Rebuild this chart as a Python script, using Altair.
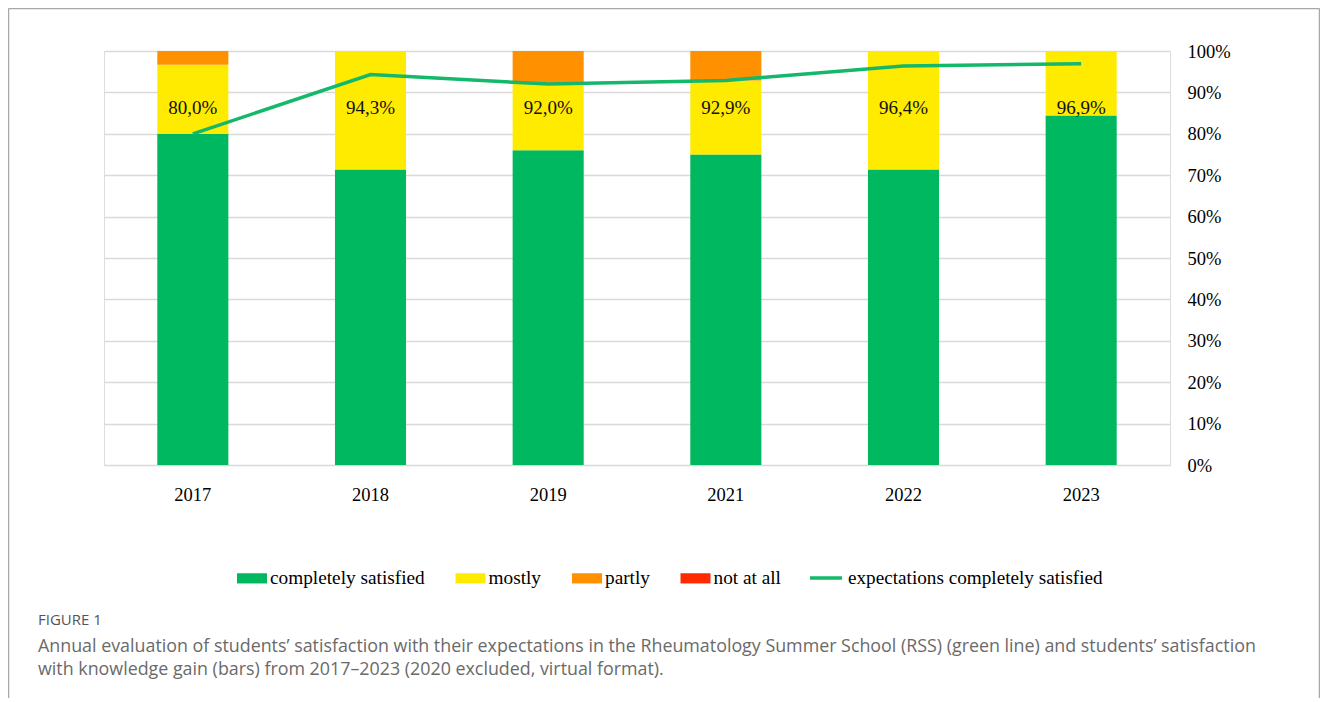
import altair as alt
import pandas as pd

years = ["2017", "2018", "2019", "2021", "2022", "2023"]
categories = ["completely satisfied", "mostly", "partly", "not at all"]
completely = [80.0, 71.4, 76.0, 75.0, 71.4, 84.4]
mostly = [16.7, 28.6, 16.0, 17.9, 28.6, 15.6]
partly = [3.3, 0.0, 8.0, 7.1, 0.0, 0.0]
not_at_all = [0.0, 0.0, 0.0, 0.0, 0.0, 0.0]
expectations = [80.0, 94.3, 92.0, 92.9, 96.4, 96.9]
line_name = "expectations completely satisfied"
y_ticks = [0, 10, 20, 30, 40, 50, 60, 70, 80, 90, 100]

bar_colors = ["#00B85F", "#FFEB00", "#FF9100", "#FF2A00"]
line_color = "#14B86A"

series = [completely, mostly, partly, not_at_all]
rows = []
for ci, (cat, vals) in enumerate(zip(categories, series)):
    for y, v in zip(years, vals):
        rows.append({"year": y, "category": cat, "idx": ci, "value": v})
bars_df = pd.DataFrame(rows)

line_df = pd.DataFrame({
    "year": years,
    "value": expectations,
    "label": [f"{v:.1f}".replace(".", ",") + "%" for v in expectations],
    "series": [line_name] * len(years),
})

SERIF = "Liberation Serif"
W, H = 1066, 414

x_enc = alt.X("year:N", sort=years,
              scale=alt.Scale(paddingInner=0.6, paddingOuter=0.3),
              axis=alt.Axis(title=None, labelAngle=0, ticks=False, domain=False,
                            labelFont=SERIF, labelFontSize=18.5, labelColor="#000",
                            labelPadding=20))

y_scale = alt.Scale(domain=[0, 100])

bars = alt.Chart(bars_df).mark_bar().encode(
    x=x_enc,
    y=alt.Y("value:Q", stack="zero", scale=y_scale,
            axis=alt.Axis(orient="right", values=y_ticks, title=None,
                          labelExpr="datum.value + '%'", ticks=False, domain=False,
                          grid=True, gridColor="#d9d9d9", gridWidth=1.3,
                          labelFont=SERIF, labelFontSize=18.5, labelColor="#000",
                          labelPadding=17)),
    color=alt.Color("category:N",
                    scale=alt.Scale(domain=categories, range=bar_colors),
                    legend=alt.Legend(title=None, orient="none", legendX=133, legendY=512,
                                      direction="horizontal", columns=4,
                                      symbolType="M-1,-0.34H1V0.34H-1Z", symbolSize=900,
                                      symbolStrokeWidth=0, symbolOpacity=1,
                                      labelFont=SERIF, labelFontSize=19.3,
                                      labelColor="#000", labelOffset=3,
                                      columnPadding=30.5, padding=0, labelLimit=400)),
    order=alt.Order("idx:Q", sort="ascending"),
)

line = alt.Chart(line_df).mark_line(strokeWidth=3.5).encode(
    x=alt.X("year:N", sort=years),
    y=alt.Y("value:Q", scale=y_scale),
    stroke=alt.Stroke("series:N",
                      scale=alt.Scale(domain=[line_name], range=[line_color]),
                      legend=alt.Legend(title=None, orient="none", legendX=704, legendY=509,
                                        symbolType="stroke", symbolSize=1024,
                                        symbolStrokeWidth=3.5,
                                        labelFont=SERIF, labelFontSize=19.2,
                                        labelColor="#000", labelOffset=4, padding=0,
                                        labelLimit=400)),
)

labels = alt.Chart(line_df).mark_text(font=SERIF, fontSize=19, color="#111").encode(
    x=alt.X("year:N", sort=years),
    y=alt.Y(datum=86.3, scale=y_scale),
    text="label:N",
)

one = alt.Data(values=[{"a": 1}])
frame_color = "#a8a8a8"
frame_top = alt.Chart(one).mark_rule(color=frame_color, strokeWidth=1.5).encode(
    x=alt.value(-95.5), x2=alt.value(1215.5), y=alt.value(-42.5))
frame_left = alt.Chart(one).mark_rule(color=frame_color, strokeWidth=1.5).encode(
    x=alt.value(-95.5), y=alt.value(-42.5), y2=alt.value(647))
frame_right = alt.Chart(one).mark_rule(color=frame_color, strokeWidth=1.5).encode(
    x=alt.value(1215.5), y=alt.value(-42.5), y2=alt.value(647))

cap_font = "Open Sans"
fig_label = alt.Chart(one).mark_text(align="left", baseline="middle", font=cap_font,
                                     fontSize=15, color="#555").encode(
    x=alt.value(-66), y=alt.value(569), text=alt.value("FIGURE 1"))
cap1 = alt.Chart(one).mark_text(align="left", baseline="middle", font=cap_font,
                                fontSize=17.85, color="#6a6a6a").encode(
    x=alt.value(-66), y=alt.value(596),
    text=alt.value("Annual evaluation of students\u2019 satisfaction with their expectations in the Rheumatology Summer School (RSS) (green line) and students\u2019 satisfaction"))
cap2 = alt.Chart(one).mark_text(align="left", baseline="middle", font=cap_font,
                                fontSize=17.85, color="#6a6a6a").encode(
    x=alt.value(-66), y=alt.value(619),
    text=alt.value("with knowledge gain (bars) from 2017\u20132023 (2020 excluded, virtual format)."))

chart = alt.layer(bars, line, labels, frame_top, frame_left, frame_right,
                  fig_label, cap1, cap2).resolve_scale(color="independent").properties(
    width=W, height=H,
    autosize=alt.AutoSizeParams(type="none"),
    padding={"left": 96, "top": 43, "right": 150, "bottom": 233},
).configure_view(stroke=None).configure(background="white")

chart.save("out.html", embed_options={"renderer": "svg", "actions": False})
